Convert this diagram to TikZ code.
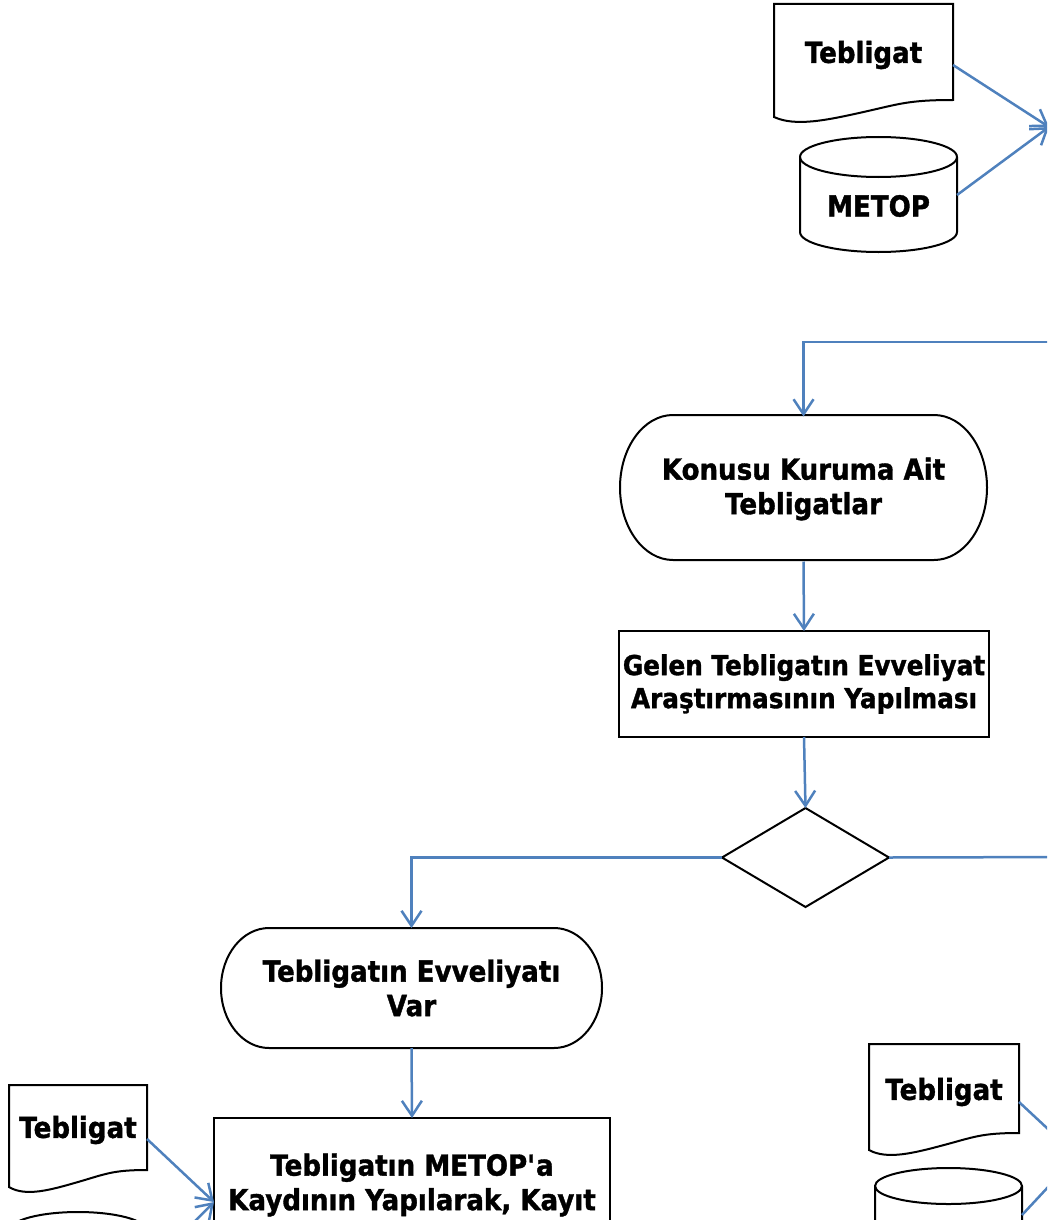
\documentclass[tikz,border=0pt]{standalone}
\usepackage{fontspec}
\setmainfont{DejaVu Sans}[FakeStretch=0.9]
\newfontfamily\boxfont{DejaVu Sans Bold}[FakeStretch=0.9, FakeBold=1.3]
\usetikzlibrary{arrows.meta,shapes.geometric}
\definecolor{flowblue}{HTML}{4F81BD}
\newcommand\docpath[4]{%
  \draw[shapeline,fill=white] (#1,#3) -- (#2,#3) -- (#2,#4)
    .. controls ({#2-0.25*(#2-#1)},#4) and ({#1+0.7*(#2-#1)},{#4+4}) .. ({#1+0.5*(#2-#1)},{#4+12})
    .. controls ({#1+0.3*(#2-#1)},{#4+20}) and ({#1+0.12*(#2-#1)},{#4+27}) .. (#1,{#4+17}) -- cycle;}
\newcommand\cylpath[5]{%
  \draw[shapeline,fill=white] (#1,{#3+#5}) -- (#1,{#4-#5})
    arc[start angle=180,end angle=0,x radius={(#2-#1)/2},y radius=#5] -- (#2,{#3+#5})
    arc[start angle=0,end angle=-180,x radius={(#2-#1)/2},y radius=#5] -- cycle;
  \draw[shapeline] (#1,{#3+#5}) arc[start angle=180,end angle=0,x radius={(#2-#1)/2},y radius=#5];}
\newcommand\stadpath[5]{%
  \draw[shapeline,fill=white] ({#1+#5},#3) -- ({#2-#5},#3)
    arc[start angle=-90,end angle=90,x radius=#5,y radius={(#4-#3)/2}] -- ({#1+#5},#4)
    arc[start angle=90,end angle=270,x radius=#5,y radius={(#4-#3)/2}] -- cycle;}
\begin{document}
\begin{tikzpicture}[x=1pt,y=-1pt,
  every node/.style={font=\boxfont\fontsize{29}{34.5}\selectfont, align=center, inner sep=0pt, outer sep=0pt},
  shapeline/.style={draw=black, line width=2pt},
  holder/.style={rectangle, draw=none},
  procbox/.style={rectangle, draw=black, line width=2pt, fill=white},
  decision/.style={diamond, draw=black, line width=2pt, fill=white, inner sep=0pt},
  conn/.style={draw=flowblue, line width=2.5pt, -{Straight Barb[length=15pt,width=20pt]}},
]
\useasboundingbox (0,0) rectangle (1047,1220);
\clip (0,0) rectangle (1047,1220);

% shapes
\docpath{774}{953}{4}{100}
\cylpath{800}{957}{137}{252}{20}
\stadpath{620}{987}{415}{560}{53}
\stadpath{221}{602}{928}{1048}{48}
\docpath{9}{147}{1085}{1170}
\cylpath{10}{146}{1212}{1327}{18}
\docpath{869}{1019}{1044}{1133}
\cylpath{875}{1022}{1168}{1268}{18}

% nodes
\node[holder, minimum width=179, minimum height=100] (doc1) at (863.5,55) {Tebligat};
\node[holder, minimum width=157, minimum height=100] (cyl1) at (878.5,206) {METOP};
\node[holder, minimum width=367, minimum height=145] (kon) at (803.5,489) {Konusu Kuruma Ait\\Tebligatlar};
\node[procbox, minimum width=370, minimum height=106, font=\boxfont\fontsize{27.5}{33}\selectfont] (gel) at (804,684) {Gelen Tebligatın Evveliyat\\Araştırmasının Yapılması};
\node[decision, minimum width=167, minimum height=99] (dia) at (805.5,857.5) {};
\node[holder, minimum width=381, minimum height=120] (var) at (411.5,988) {Tebligatın Evveliyatı\\Var};
\node[procbox, minimum width=396, minimum height=168] (reg) at (412,1202) {};
\node (regt) at (412,1185) {Tebligatın METOP\textquotesingle a\\Kaydının Yapılarak, Kayıt};
\node[holder, minimum width=138, minimum height=100] (doc2) at (78,1130) {Tebligat};
\node[holder, minimum width=136, minimum height=100] (cyl2) at (78,1270) {};
\node[holder, minimum width=150, minimum height=100] (doc3) at (944,1092) {Tebligat};
\node[holder, minimum width=147, minimum height=100] (cyl3) at (948.5,1215) {};

\coordinate (t1) at (1049,127);
\coordinate (in1) at (1070,342);
\coordinate (out1) at (1070,857);
\coordinate (t3) at (1077,1156);

% connectors
\draw[conn] ([yshift=-10pt]doc1.east) -- (t1);
\draw[conn] ([yshift=11pt]cyl1.east) -- (t1);
\draw[conn] (in1) -| (kon.north);
\draw[conn] (kon.south) -- (gel.north);
\draw[conn] (gel.south) -- (dia.north);
\draw[conn] (dia.west) -| (var.north);
\draw[conn] (dia.east) -- (out1);
\draw[conn] (var.south) -- (reg.north);
\draw[conn] ([yshift=-9pt]doc2.east) -- (reg.west);
\draw[conn] (cyl2.east) -- (reg.west);
\draw[conn] ([yshift=-10pt]doc3.east) -- (t3);
\draw[conn] (cyl3.east) -- (t3);
\end{tikzpicture}
\end{document}
